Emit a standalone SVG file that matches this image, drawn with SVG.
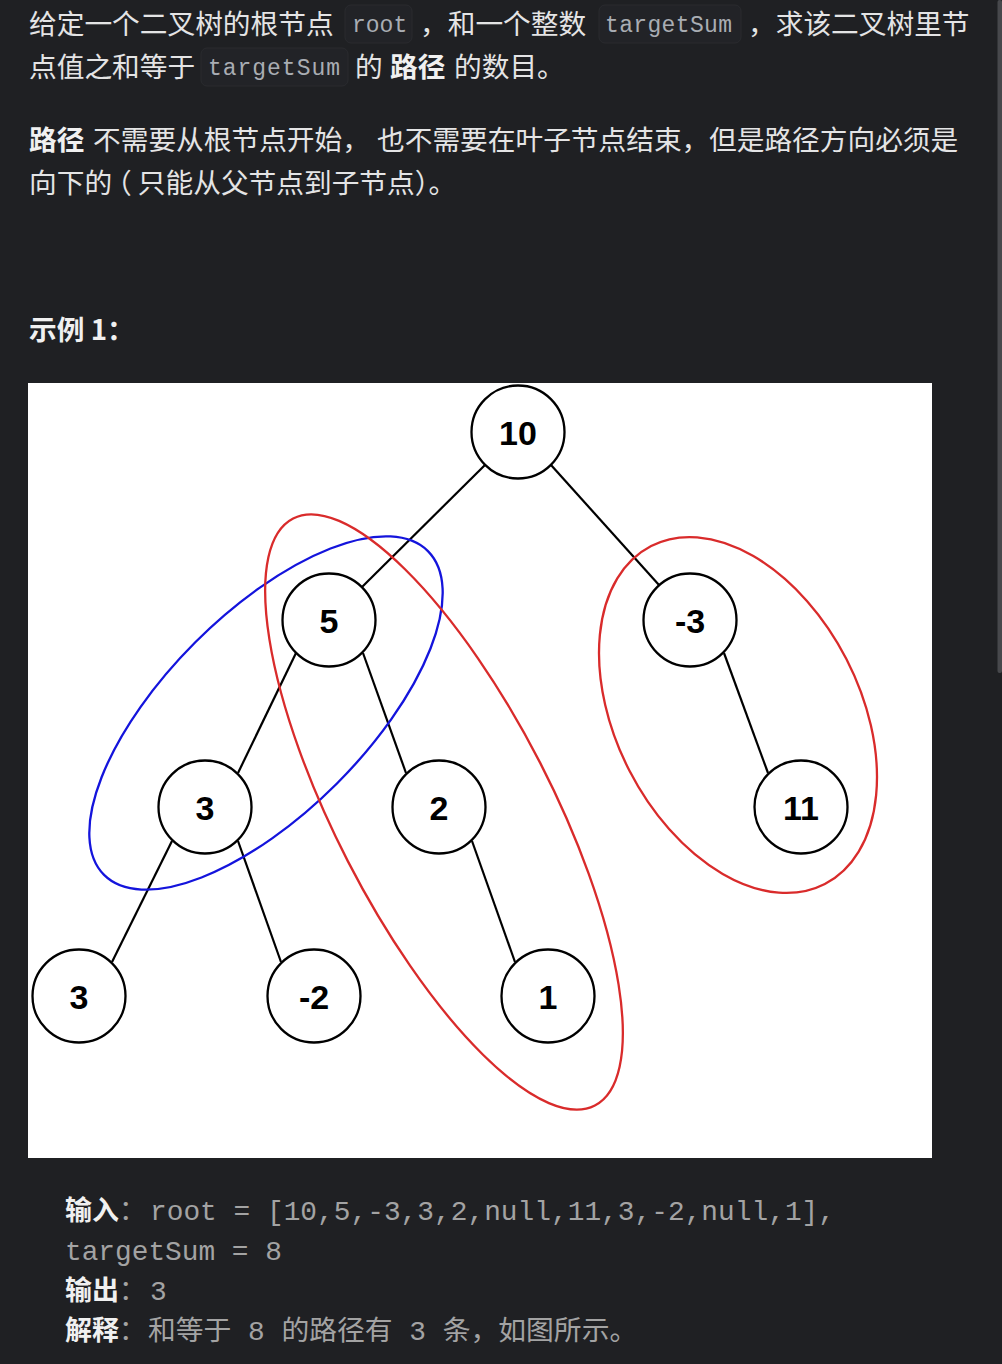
<svg xmlns="http://www.w3.org/2000/svg" width="1002" height="1364" viewBox="0 0 1002 1364">
<style>
.t{font-family:"Noto Sans CJK SC","Noto Sans",sans-serif;font-size:27.7px;fill:#e4e4e5}
.b{font-weight:700;fill:#f0f0f0}
.code{font-family:"Liberation Mono","DejaVu Sans Mono",monospace;font-size:23px;fill:#a9adb3}
.cbox{fill:#222327;stroke:#2a2b2f;stroke-width:1}
.pre{font-family:"Liberation Mono","Noto Sans CJK SC",monospace;font-size:27.8px;fill:#a3a3a3}
.lbl{font-family:"Noto Sans CJK SC",sans-serif;font-size:27px;font-weight:700;fill:#f0f0f0}
.col{font-family:"Noto Sans CJK SC",sans-serif;font-size:27px;fill:#a3a3a3}
.node circle{fill:#ffffff;stroke:#000;stroke-width:2.3}
.node text{font-family:"Liberation Sans",Arial,sans-serif;font-weight:700;font-size:34px;fill:#000;text-anchor:middle}
.edge{stroke:#000;stroke-width:2.2}
.ring{fill:none;stroke-width:2.3}
</style>
<rect x="0" y="0" width="1002" height="1364" fill="#1f2023"/>
<rect x="997.5" y="0" width="4.5" height="673" rx="2" fill="#47484c"/>

<!-- paragraph 1 -->
<text class="t" x="29" y="34">给定一个二叉树的根节点</text>
<rect class="cbox" x="345" y="5" width="67" height="38" rx="6"/>
<text class="code" x="352" y="32">root</text>
<text class="t" x="420" y="34">，和一个整数</text>
<rect class="cbox" x="599" y="5" width="142" height="38" rx="6"/>
<text class="code" x="605" y="32" textLength="127" lengthAdjust="spacing">targetSum</text>
<text class="t" x="748" y="34">，求该二叉树里节</text>

<text class="t" x="29" y="77">点值之和等于</text>
<rect class="cbox" x="201" y="48" width="147" height="38" rx="6"/>
<text class="code" x="208" y="75" textLength="132" lengthAdjust="spacing">targetSum</text>
<text class="t" x="355" y="77">的</text>
<text class="t b" x="390" y="77">路径</text>
<text class="t" x="454" y="77">的数目。</text>

<!-- paragraph 2 -->
<text class="t b" x="29" y="150">路径</text>
<text class="t" x="93" y="150">不需要从根节点开始，</text>
<text class="t" x="377" y="150">也不需要在叶子节点结束，</text>
<text class="t" x="709" y="150">但是路径方向必须是</text>
<text class="t" x="29" y="193" dx="0 0 0 -8 6">向下的（只能从父节点到子节点）。</text>

<text class="t b" x="29" y="340" font-size="27">示例 1：</text>

<!-- diagram -->
<rect x="28" y="383" width="904" height="775" fill="#ffffff"/>
<g id="connectors">
<line class="edge" x1="485" y1="465" x2="362" y2="587"/>
<line class="edge" x1="551" y1="465" x2="659" y2="585"/>
<line class="edge" x1="296" y1="653" x2="238" y2="773"/>
<line class="edge" x1="363" y1="653" x2="406" y2="773"/>
<line class="edge" x1="724" y1="653" x2="768" y2="773"/>
<line class="edge" x1="172" y1="841" x2="112" y2="962"/>
<line class="edge" x1="238" y1="841" x2="281" y2="962"/>
<line class="edge" x1="472" y1="841" x2="515" y2="962"/>
</g>
<g id="n10" class="node"><circle cx="518" cy="432" r="46.5"/><text x="518" y="445">10</text></g>
<g id="n5" class="node"><circle cx="329" cy="620" r="46.5"/><text x="329" y="633">5</text></g>
<g id="nm3" class="node"><circle cx="690" cy="620" r="46.5"/><text x="690" y="633">-3</text></g>
<g id="n3a" class="node"><circle cx="205" cy="807" r="46.5"/><text x="205" y="820">3</text></g>
<g id="n2" class="node"><circle cx="439" cy="807" r="46.5"/><text x="439" y="820">2</text></g>
<g id="n11" class="node"><circle cx="801" cy="807" r="46.5"/><text x="801" y="820">11</text></g>
<g id="n3b" class="node"><circle cx="79" cy="996" r="46.5"/><text x="79" y="1009">3</text></g>
<g id="nm2" class="node"><circle cx="314" cy="996" r="46.5"/><text x="314" y="1009">-2</text></g>
<g id="n1" class="node"><circle cx="548" cy="996" r="46.5"/><text x="548" y="1009">1</text></g>
<g id="rings">
<ellipse class="ring" stroke="#1414dc" cx="266" cy="713" rx="229" ry="100" transform="rotate(-45 266 713)"/>
<ellipse class="ring" stroke="#d92b2b" cx="444" cy="812" rx="330" ry="108" transform="rotate(62.8 444 812)"/>
<ellipse class="ring" stroke="#d92b2b" cx="738" cy="715" rx="190" ry="122" transform="rotate(62.8 738 715)"/>
</g>

<!-- example block -->
<text class="lbl" x="65" y="1220">输入</text><text class="col" x="119" y="1220">：</text>
<text class="pre" x="150" y="1220" textLength="685" lengthAdjust="spacing">root = [10,5,-3,3,2,null,11,3,-2,null,1],</text>
<text class="pre" x="65" y="1260">targetSum = 8</text>
<text class="lbl" x="65" y="1300">输出</text><text class="col" x="119" y="1300">：</text>
<text class="pre" x="150" y="1300">3</text>
<text class="lbl" x="65" y="1340">解释</text><text class="col" x="119" y="1340">：</text>
<text class="pre" x="148" y="1340" xml:space="preserve">和等于 8 的路径有 3 条，如图所示。</text>
</svg>
